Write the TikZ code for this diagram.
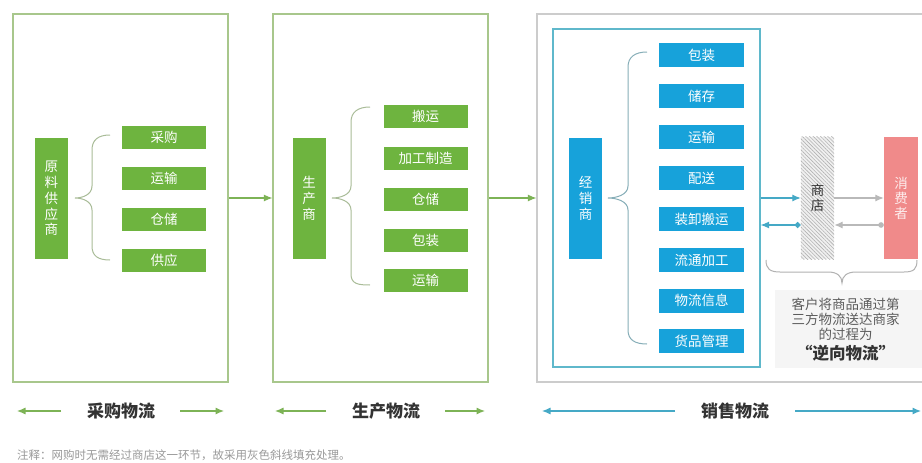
\documentclass[tikz,border=0pt]{standalone}
\usepackage{fontspec}
\newfontfamily\cjk{Noto Sans CJK SC}
\usetikzlibrary{arrows.meta,patterns.meta,calc}
\definecolor{G}{HTML}{6EB43F}
\definecolor{GP}{HTML}{A8C78C}
\definecolor{GA}{HTML}{7DB356}
\definecolor{GB}{HTML}{A9BC98}
\definecolor{B}{HTML}{17A2DA}
\definecolor{BP}{HTML}{5FB8CB}
\definecolor{BA}{HTML}{45A9C6}
\definecolor{BB}{HTML}{86AEB8}
\definecolor{PK}{HTML}{F08A8A}
\definecolor{TX}{HTML}{333333}
\begin{document}
\begin{tikzpicture}[x=1pt,y=-1pt,
  panel/.style={draw=GP,line width=1.2pt,fill=white,inner sep=0},
  gbox/.style={fill=G,text=white,minimum width=84pt,minimum height=23pt,inner sep=0,font=\cjk\fontsize{13.5}{13.5}\selectfont},
  bbox/.style={fill=B,text=white,minimum width=85pt,minimum height=24pt,inner sep=0,font=\cjk\fontsize{13.5}{13.5}\selectfont},
  vbox/.style={minimum width=33pt,minimum height=121pt,inner sep=0,align=center,font=\cjk\fontsize{13.5}{15.8}\selectfont},
  garrow/.style={draw=GA,line width=1.1pt,-{Latex[length=8.5pt,width=7pt]}},
  barrow/.style={draw=BA,line width=1.1pt,-{Latex[length=8.5pt,width=7pt]}},
  bback/.style={draw=BA,line width=1.1pt,{Diamond[length=6.5pt,width=6.5pt]}-{Latex[length=8.5pt,width=7pt]}},
  grarrow/.style={draw=gray!55,line width=1.1pt,-{Latex[length=8.5pt,width=7pt]}},
  grback/.style={draw=gray!55,line width=1.1pt,{Circle[length=5.5pt]}-{Latex[length=8.5pt,width=7pt]}},
  brace/.style={line width=1pt},
  blabel/.style={text=TX,font=\cjk\bfseries\fontsize{17}{17}\selectfont}
]
\clip (0,0) rectangle (922,463);
\fill[white] (0,0) rectangle (922,463);

% panels
\node[panel,minimum width=215pt,minimum height=368pt] (P1) at (120.5,198) {};
\node[panel,minimum width=215pt,minimum height=368pt] (P2) at (380.5,198) {};
\node[panel,draw=gray!40,minimum width=403pt,minimum height=368pt] (P3) at (738.5,198) {};
\node[draw=BP,line width=1.2pt,minimum width=207pt,minimum height=338pt,inner sep=0] (inner) at (656.5,198) {};

% panel 1
\node[vbox,fill=G,text=white] (sup) at (51.5,198.5) {原\\料\\供\\应\\商};
\draw[GB,brace] (110,135) .. controls (98,135) and (92,140) .. (92,150) -- (92,186)
  .. controls (92,195) and (82,198) .. (75,198) .. controls (82,198) and (92,201) .. (92,210)
  -- (92,246) .. controls (92,256) and (98,260) .. (110,260);
\foreach \t/\y/\n in {采购/137.5/a,运输/178.5/b,仓储/219/c,供应/260/d}
  \node[gbox] (p1\n) at (164,\y) {\t};

% panel 2
\node[vbox,fill=G,text=white] (mfr) at (309,198.5) {生\\产\\商};
\draw[GB,brace] (370,107) .. controls (358,107) and (351,112) .. (351,122) -- (351,186)
  .. controls (351,195) and (340,198) .. (332,198) .. controls (340,198) and (351,201) .. (351,210)
  -- (351,274) .. controls (351,284) and (358,285) .. (370,285);
\foreach \t/\y/\n in {搬运/116.5/a,加工制造/158/b,仓储/199/c,包装/240/d,运输/280.5/e}
  \node[gbox] (p2\n) at (425.5,\y) {\t};

% panel 3
\node[vbox,fill=B,text=white] (dist) at (585.5,198.5) {经\\销\\商};
\draw[BB,brace] (647,52) .. controls (635,52) and (628,57) .. (628,67) -- (628,186)
  .. controls (628,195) and (616,198) .. (608,198) .. controls (616,198) and (628,201) .. (628,210)
  -- (628,330) .. controls (628,340) and (635,344) .. (647,344);
\foreach \t/\y/\n in {包装/55/a,储存/96/b,运输/137/c,配送/178/d,装卸搬运/219/e,流通加工/260/f,物流信息/300.5/g,货品管理/341/h}
  \node[bbox] (p3\n) at (701.5,\y) {\t};

% store and consumer
\node[vbox,fill=gray!12,minimum height=122pt,text=TX] (shop) at (817.5,198) {};
\fill[pattern={Lines[angle=-45,distance=2.6pt,line width=0.6pt]},pattern color=gray!60]
  (shop.south west) rectangle (shop.north east);
\node[vbox,text=TX,minimum height=122pt,font=\cjk\fontsize{13.5}{15}\selectfont] (shoptxt) at (shop) {商\\店};
\node[vbox,fill=PK,text=white!85!PK,minimum width=34pt,minimum height=122pt,font=\cjk\fontsize{13.5}{15}\selectfont] (cons) at (901,198) {消\\费\\者};

\draw[barrow] (inner.east) -- (shop.west);
\draw[bback] ($(shop.west)+(0,27)$) -- ($(inner.east)+(0,27)$);
\draw[grarrow] (shop.east) -- (cons.west);
\draw[grback] ($(cons.west)+(0,27)$) -- ($(shop.east)+(0,27)$);

% under brace
\draw[gray!60,brace] (766,260) .. controls (766,269) and (770,272) .. (780,272) -- (828,272)
  .. controls (837,272) and (842,276) .. (842,283) .. controls (842,276) and (847,272) .. (856,272)
  -- (904,272) .. controls (914,272) and (917,269) .. (917,260);

\node[fill=gray!8,minimum width=150pt,minimum height=78pt,inner sep=0] (note3) at (850,329) {};
\node[align=center,text=TX!80,font=\cjk\fontsize{13.5}{15}\selectfont,inner sep=0] (rev) at (845.5,330)
  {客户将商品通过第\\三方物流送达商家\\的过程为\\[3.5pt]{\bfseries\color{TX}\fontsize{16.5}{18}\selectfont “逆向物流”}};

% between-panel arrows
\draw[garrow] (P1.east) -- (P2.west);
\draw[garrow] (P2.east) -- (P3.west);

% bottom labels
\node[blabel] (L1) at (121,411) {采购物流};
\node[blabel] (L2) at (386,411) {生产物流};
\node[blabel] (L3) at (735,411) {销售物流};
\coordinate (a1) at (61,411); \coordinate (a1e) at (17,411);
\coordinate (a2) at (180,411); \coordinate (a2e) at (224,411);
\coordinate (a3) at (326,411); \coordinate (a3e) at (275,411);
\coordinate (a4) at (445,411); \coordinate (a4e) at (485,411);
\coordinate (a5) at (675,411); \coordinate (a5e) at (542,411);
\coordinate (a6) at (795,411); \coordinate (a6e) at (921,411);
\draw[garrow] (a1) -- (a1e);
\draw[garrow] (a2) -- (a2e);
\draw[garrow] (a3) -- (a3e);
\draw[garrow] (a4) -- (a4e);
\draw[barrow] (a5) -- (a5e);
\draw[barrow] (a6) -- (a6e);

% footnote
\node[anchor=west,text=gray!80,font=\cjk\fontsize{11.5}{11.5}\selectfont,inner sep=0] (fn) at (17,455)
  {注释：网购时无需经过商店这一环节，故采用灰色斜线填充处理。};
\end{tikzpicture}
\end{document}
